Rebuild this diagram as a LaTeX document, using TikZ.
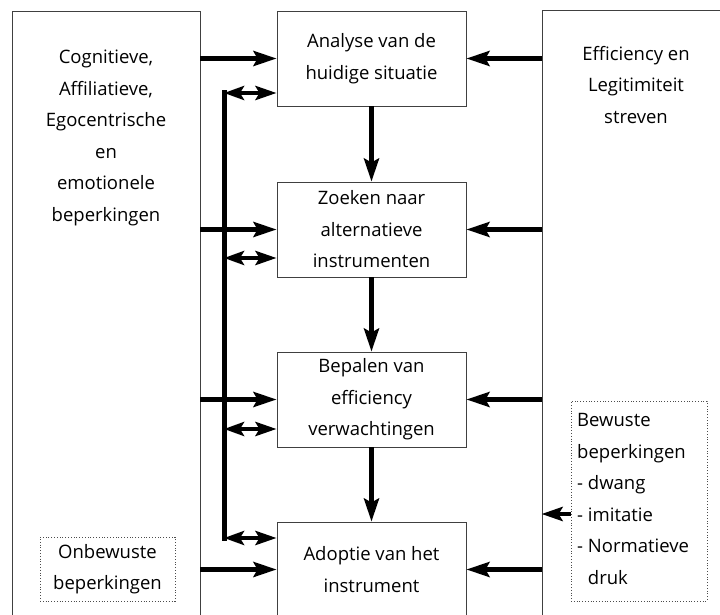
\documentclass[tikz,border=0pt]{standalone}
\usepackage{fontspec}
\setmainfont{Open Sans}
\usetikzlibrary{arrows.meta,calc}
\begin{document}
\begin{tikzpicture}[x=1pt,y=-1pt,
  txt/.style={font=\fontsize{18.5}{31.5}\selectfont, align=center, inner sep=0pt},
  bigbox/.style={draw=black!75, line width=0.9pt, inner sep=0pt},
  stepbox/.style={draw=black!75, line width=0.9pt, minimum width=189pt, minimum height=95pt, inner sep=2pt, align=center, font=\fontsize{18.5}{31.5}\selectfont},
  notebox/.style={draw=black!70, dotted, line width=0.8pt, inner sep=0pt},
  flow/.style={line width=4.5pt, -{Stealth[length=23pt,width=15pt,inset=4pt]}},
  dflow/.style={line width=4.5pt, {Stealth[length=20pt,width=14pt,inset=4pt]}-{Stealth[length=21pt,width=14pt,inset=4pt]}},
  vline/.style={line width=5pt}]
\useasboundingbox (0,0) rectangle (720,615);
% big side boxes
\node[bigbox, minimum width=188pt, minimum height=630pt] (L) at (106,326) {};
\node[bigbox, minimum width=190pt, minimum height=630pt] (R) at (637,325) {};
\node[txt] (Lt) at (106,138) {Cognitieve,\\Affiliatieve,\\Egocentrische\\en\\emotionele\\beperkingen};
\node[txt] (Rt) at (636,85) {Efficiency en\\Legitimiteit\\streven};
% center steps
\node[stepbox] (A) at (371.5,58.5) {Analyse van de\\huidige situatie};
\node[stepbox] (B) at (371.5,229.5) {Zoeken naar\\alternatieve\\instrumenten};
\node[stepbox] (C) at (371.5,399.5) {Bepalen van\\efficiency\\verwachtingen};
\node[stepbox] (D) at (371.5,569.5) {Adoptie van het\\instrument};
% dotted notes
\node[notebox, minimum width=135pt, minimum height=64pt, txt] (U) at (107.5,569) {Onbewuste\\beperkingen};
\node[notebox, minimum width=136pt, minimum height=200pt] (W) at (639,501) {};
\node[txt, align=left, anchor=west] (Wt) at (577,499) {Bewuste\\beperkingen\\- dwang\\- imitatie\\- Normatieve\\\phantom{- }druk};
% vertical flow
\draw[flow] (A.south) -- (B.north);
\draw[flow] (B.south) -- (C.north);
\draw[flow] (C.south) -- (D.north);
% from left box
\draw[flow] (L.east |- A.west) -- (A.west);
\draw[flow] (L.east |- B.west) -- (B.west);
\draw[flow] (L.east |- C.west) -- (C.west);
\draw[flow] (L.east |- D.west) -- (D.west);
% from right box
\draw[flow] (R.west |- A.east) -- (A.east);
\draw[flow] (R.west |- B.east) -- (B.east);
\draw[flow] (R.west |- C.east) -- (C.east);
\draw[flow] (R.west |- D.east) -- (D.east);
% from Bewuste box
\coordinate (w1) at (W.west |- 0,514);
\draw[line width=4.5pt, -{Stealth[length=21pt,width=14pt,inset=4pt]}] (w1) -- (R.west |- w1);
% feedback bus
\coordinate (v1) at (224,93);
\coordinate (v2) at (224,258);
\coordinate (v3) at (224,429);
\coordinate (v4) at (224,538);
\draw[vline] ($(v1)+(0,-2.5)$) -- ($(v4)+(0,2.5)$);
\draw[dflow] (v1) -- (A.west |- v1);
\draw[dflow] (v2) -- (B.west |- v2);
\draw[dflow] (v3) -- (C.west |- v3);
\draw[dflow] (v4) -- (D.west |- v4);
\end{tikzpicture}
\end{document}
